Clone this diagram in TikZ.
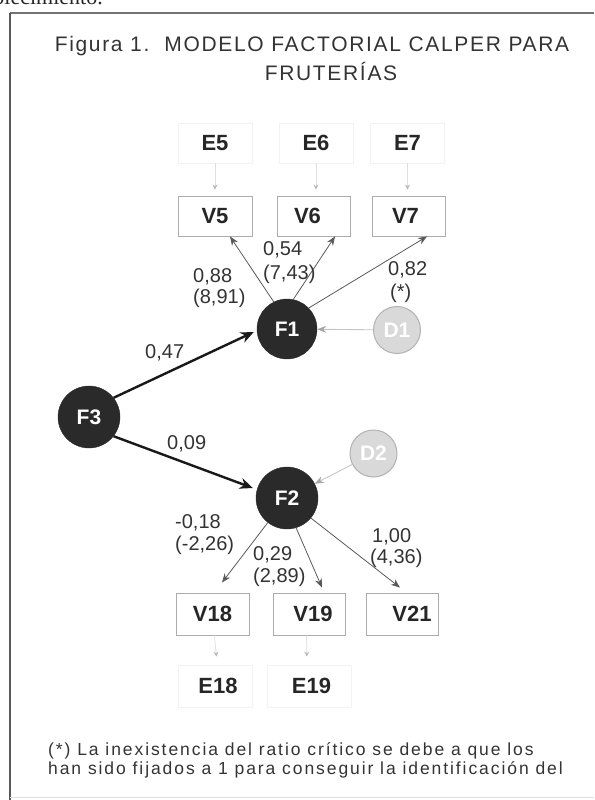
\documentclass[tikz,border=0pt]{standalone}
\usepackage{fontspec}
\setmainfont{Liberation Sans}
\newfontfamily\bodyserif{Liberation Serif}
\newfontfamily\titlefont[LetterSpace=8]{Liberation Sans}
\newfontfamily\notefont[LetterSpace=11]{Liberation Sans}
\usetikzlibrary{arrows.meta}
\definecolor{ink}{HTML}{2A2A2A}
\definecolor{txt}{HTML}{333333}
\begin{document}
\begin{tikzpicture}[x=1pt,y=-1pt,
  namebox/.style={draw=gray!65, line width=0.9pt, minimum width=74pt, minimum height=40pt,
    inner sep=0pt, font=\fontsize{22}{24}\selectfont\bfseries, text=black!85},
  errbox/.style={namebox, draw=gray!10},
  factor/.style={circle, fill=ink, draw=ink, minimum size=60pt, inner sep=0pt, text=white,
    font=\fontsize{21}{22}\selectfont\bfseries},
  dist/.style={circle, fill=gray!30, draw=gray!60, line width=1pt, minimum size=47pt,
    inner sep=0pt, text=white, font=\fontsize{21}{22}\selectfont\bfseries},
  coef/.style={font=\fontsize{20}{22}\selectfont, text=txt, anchor=west, inner sep=0pt},
  load/.style={draw=black!65, line width=0.8pt, -{Stealth[length=9pt,width=7pt]}},
  strong/.style={draw=black!90, line width=2.4pt, -{Stealth[length=13pt,width=11pt]}},
  resid/.style={draw=gray!45, line width=0.9pt, -{Stealth[length=9pt,width=7pt,color=gray!70]}},
  errarrow/.style={draw=gray!25, line width=0.7pt, -{Stealth[length=5pt,width=5pt,color=gray!55]}}
]
\useasboundingbox (0,0) rectangle (594,800);
\clip (0,0) rectangle (594,800);

% end of the preceding paragraph, cut by the page edge
\node[font=\bodyserif\fontsize{22}{22}\selectfont, anchor=base east, inner sep=0pt, text=black!85]
  (prev) at (103,5) {establecimiento.};

% frame
\draw[line width=1.3pt, draw=black!55] (10,13) -- (594,13);
\draw[line width=2pt, draw=black!65] (10,13) -- (10,800);
\draw[line width=0.8pt, draw=gray!25] (10,797) -- (594,797);

% title
\node[font=\titlefont\fontsize{21}{24}\selectfont, text=txt, anchor=base, inner sep=0pt]
  (t1) at (312,51.5) {Figura 1.\ \ MODELO FACTORIAL CALPER PARA};
\node[font=\titlefont\fontsize{21}{24}\selectfont, text=txt, anchor=base, inner sep=0pt]
  (t2) at (331,81) {FRUTER\'IAS};

% error terms and indicators of F1
\node[errbox] (E5) at (215,143) {E5};
\node[errbox] (E6) at (316,143) {E6};
\node[errbox] (E7) at (407.5,143) {E7};
\node[namebox] (V5) at (215,216) {V5};
\node[namebox, minimum width=73pt] (V6) at (313.5,216) {V6\hspace*{12pt}};
\node[namebox, minimum width=73pt] (V7) at (408.5,216) {V7\hspace*{6pt}};

\draw[errarrow, shorten >=6pt] (E5.south) -- (E5.south |- V5.north);
\draw[errarrow, shorten >=6pt] (E6.south) -- (E6.south |- V6.north);
\draw[errarrow, shorten >=6pt] (E7.south) -- (E7.south |- V7.north);

% factors
\node[factor] (F1) at (287,329) {F1};
\node[dist] (D1) at (397,330) {D1};
\node[factor, minimum size=62pt] (F3) at (89,417) {F3};
\node[factor, minimum size=62pt] (F2) at (287,498) {F2};
\node[dist] (D2) at (373.5,453.5) {D2};

% loadings of F1
\draw[load] (F1.116) -- ([xshift=15pt]V5.south);
\draw[load] (F1.78) -- ([xshift=21.5pt]V6.south);
\draw[load] (F1.44) -- ([xshift=18.5pt]V7.south);
\draw[resid] (D1) -- (F1);

\node[coef] (c88) at (193,277) {0,88};
\node[coef] (c88r) at (193,298) {(8,91)};
\node[coef] (c54) at (263,250) {0,54};
\node[coef] (c54r) at (263,274) {(7,43)};
\node[coef] (c82) at (388,270) {0,82};
\node[coef] (c82r) at (390,293) {(*)};

% structural paths
\draw[strong] (F3.38) -- ([xshift=-3pt,yshift=-3pt]F1.west);
\draw[strong] (F3.-38) -- ([xshift=-3pt,yshift=10pt]F2.west);
\draw[resid] (D2) -- (F2);
\node[coef] (c47) at (145,353) {0,47};
\node[coef] (c09) at (167,444) {0,09};

% indicators of F2
\node[namebox, minimum width=73pt, minimum height=42pt] (V18) at (212.5,614) {V18};
\node[namebox, minimum width=72pt, minimum height=42pt] (V19) at (309,614) {\hspace*{8pt}V19};
\node[namebox, minimum width=72pt, minimum height=42pt] (V21) at (402,614) {\hspace*{20pt}V21};

\draw[load] (F2.232) -- ([xshift=9.5pt,yshift=10pt]V18.north);
\draw[load] (F2.287) -- ([xshift=13pt,yshift=5pt]V19.north);
\draw[load] (F2.320) -- ([xshift=-2pt,yshift=5pt]V21.north);

\node[coef] (c18) at (175,523) {-0,18};
\node[coef] (c18r) at (175,545) {(-2,26)};
\node[coef] (c29) at (253,555) {0,29};
\node[coef] (c29r) at (253,577) {(2,89)};
\node[coef] (c100) at (372,537) {1,00};
\node[coef] (c100r) at (370,558) {(4,36)};

% error terms of F2 indicators
\node[errbox, minimum height=42pt] (E18) at (215,686) {\hspace*{6pt}E18};
\node[errbox, minimum height=42pt, minimum width=84pt] (E19) at (309.5,686) {\hspace*{4pt}E19};
\draw[errarrow, shorten >=8pt] ([xshift=2pt]V18.south) -- ([xshift=2pt]E18.north);
\draw[errarrow, shorten >=8pt] ([xshift=-2.5pt]V19.south) -- ([xshift=-2.5pt]E19.north);

% footnote
\node[font=\notefont\fontsize{17.5}{19}\selectfont, text=txt, anchor=base west, inner sep=0pt]
  (n1) at (48,755) {(*) La inexistencia del ratio cr\'itico se debe a que los};
\node[font=\notefont\fontsize{17.5}{19}\selectfont, text=txt, anchor=base west, inner sep=0pt]
  (n2) at (48,774) {han sido fijados a 1 para conseguir la identificaci\'on del};
\end{tikzpicture}
\end{document}
